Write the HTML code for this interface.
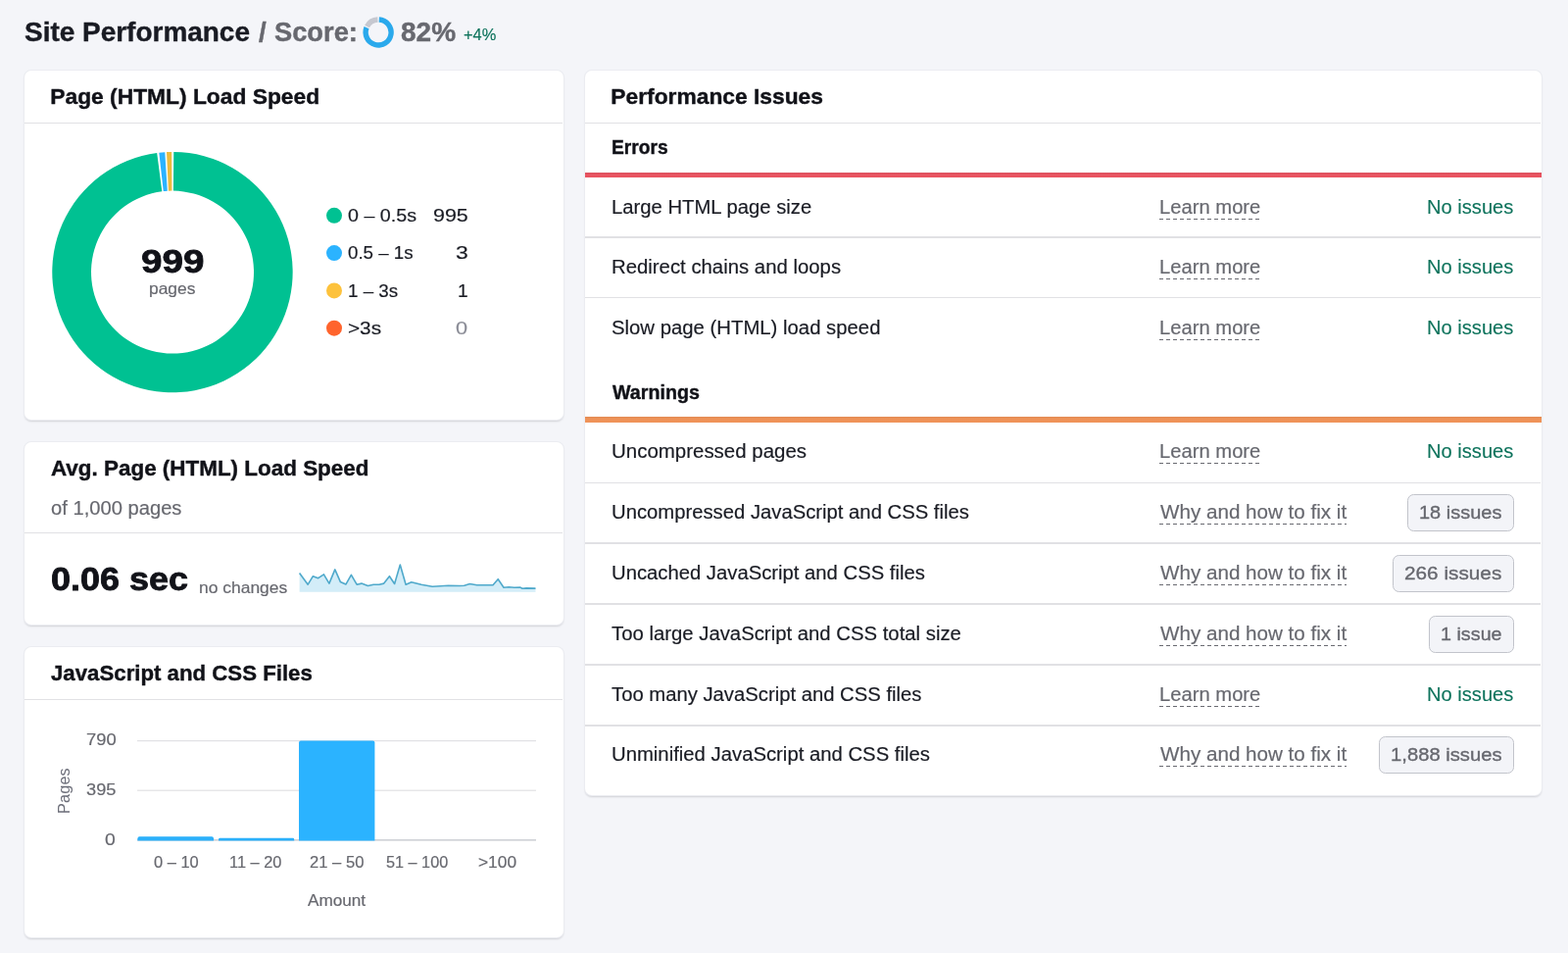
<!DOCTYPE html>
<html lang="en">
<head>
<meta charset="utf-8">
<title>Site Performance</title>
<style>
*{box-sizing:border-box;margin:0;padding:0}
html,body{width:1600px;height:972px;overflow:hidden}
body{background:#f4f5f9;font-family:"Liberation Sans",sans-serif;color:#191b23;position:relative}
.abs,.t{position:absolute;white-space:pre}
.t{line-height:1;transform-origin:0 0}
.card{position:absolute;background:#fff;border-radius:7px;box-shadow:0 0 0 1px #ebecf1,0 1.5px 2px rgba(25,27,35,.16)}
.hr{position:absolute;height:1.3px;background:#e1e1e4}
.ul{position:absolute;height:1.6px;background:repeating-linear-gradient(90deg,#696a71 0,#696a71 4px,transparent 4px,transparent 7px)}
.btn{position:absolute;border:1.6px solid #c2c4cb;border-radius:6.5px;background:#f3f4f8}
.rot{position:absolute;transform:rotate(-90deg);transform-origin:0 0;white-space:nowrap;line-height:1}
</style>
</head>
<body>
<!-- cards -->
<div class="card" style="left:24.8px;top:71.6px;width:550.1px;height:356.6px"></div>
<div class="hr" style="left:25px;top:124.6px;width:549px"></div>
<div class="card" style="left:24.8px;top:451.2px;width:550.1px;height:185.4px"></div>
<div class="hr" style="left:25px;top:542.6px;width:549px"></div>
<div class="card" style="left:24.8px;top:659.5px;width:550.1px;height:296px"></div>
<div class="hr" style="left:25px;top:712.6px;width:549px"></div>
<div class="card" style="left:596.8px;top:71.6px;width:976px;height:739.8px"></div>
<div class="hr" style="left:597px;top:124.6px;width:975px"></div>
<div class="abs" style="left:596.5px;top:175.7px;width:976.5px;height:5.6px;background:linear-gradient(#d9505e,#e8525f 40%,#ea5461)"></div>
<div class="abs" style="left:596.5px;top:425.3px;width:976.5px;height:5.6px;background:linear-gradient(#e38b54,#ee9257 40%,#f0945a)"></div>
<div class="hr" style="left:597px;top:241.3px;width:975px"></div>
<div class="hr" style="left:597px;top:302.8px;width:975px"></div>
<div class="hr" style="left:597px;top:491.6px;width:975px"></div>
<div class="hr" style="left:597px;top:553.3px;width:975px"></div>
<div class="hr" style="left:597px;top:615.3px;width:975px"></div>
<div class="hr" style="left:597px;top:677.3px;width:975px"></div>
<div class="hr" style="left:597px;top:739.3px;width:975px"></div>
<!-- graphics -->
<svg class="abs" style="left:366px;top:12px" width="40" height="42" viewBox="366 12 40 42"><path d="M386.92,17.32 A15.7,15.7 0 1 1 371.54,27.12 L376.55,29.14 A10.3,10.3 0 1 0 386.64,22.71 Z" fill="#2aa9ec"/><path d="M372.11,25.87 A15.7,15.7 0 0 1 385.28,17.32 L385.56,22.71 A10.3,10.3 0 0 0 376.92,28.32 Z" fill="#c6c8d0"/></svg>
<svg class="abs" style="left:0;top:0" width="600" height="440" viewBox="0 0 600 440"><path d="M177.28,154.91 A122.7,122.7 0 1 1 160.20,155.92 L165.31,195.29 A83.0,83.0 0 1 0 176.87,194.60 Z" fill="#00c192"/><path d="M162.32,155.66 A122.7,122.7 0 0 1 168.30,155.14 L170.79,194.76 A83.0,83.0 0 0 0 166.75,195.12 Z" fill="#2bb3ff"/><path d="M170.01,155.05 A122.7,122.7 0 0 1 175.14,154.90 L175.42,194.60 A83.0,83.0 0 0 0 171.95,194.70 Z" fill="#ecbb3f"/><circle cx="341" cy="219.8" r="8" fill="#00c192"/><circle cx="341" cy="258.1" r="8" fill="#2bb3ff"/><circle cx="341" cy="296.4" r="8" fill="#fdc23c"/><circle cx="341" cy="334.7" r="8" fill="#ff642d"/></svg>
<svg class="abs" style="left:0;top:0" width="1600" height="972" viewBox="0 0 1600 972"><polygon points="305.6,603.8 305.6,584.5 314.2,596.2 319.4,587.7 324.7,589.7 330.4,585.8 335.9,595.1 341.8,580.9 347.3,593.4 353.0,595.9 358.4,586.3 364.1,596.2 368.9,595.1 375.4,597.5 381.1,596.2 386.8,596.2 391.7,595.1 397.4,587.7 402.6,595.5 408.3,576.0 414.1,596.2 419.8,593.8 429.9,596.2 441.2,598.3 457.5,597.2 468.9,597.5 473.7,597.2 479.4,595.5 486.7,596.8 503.0,596.8 508.2,590.7 514.0,599.3 519.2,598.8 524.9,599.3 530.6,599.0 533.1,600.3 537.1,599.9 546.5,600.1 546.5,603.8" fill="#d3edf8"/><polyline points="305.6,584.5 314.2,596.2 319.4,587.7 324.7,589.7 330.4,585.8 335.9,595.1 341.8,580.9 347.3,593.4 353.0,595.9 358.4,586.3 364.1,596.2 368.9,595.1 375.4,597.5 381.1,596.2 386.8,596.2 391.7,595.1 397.4,587.7 402.6,595.5 408.3,576.0 414.1,596.2 419.8,593.8 429.9,596.2 441.2,598.3 457.5,597.2 468.9,597.5 473.7,597.2 479.4,595.5 486.7,596.8 503.0,596.8 508.2,590.7 514.0,599.3 519.2,598.8 524.9,599.3 530.6,599.0 533.1,600.3 537.1,599.9 546.5,600.1" fill="none" stroke="#4fa9cb" stroke-width="1.6" stroke-linejoin="round"/></svg>
<svg class="abs" style="left:0;top:0" width="600" height="972" viewBox="0 0 600 972"><rect x="140" y="755.0" width="407" height="1.2" fill="#e1e1e4"/><rect x="140" y="805.6" width="407" height="1.2" fill="#e1e1e4"/><rect x="140" y="856.2" width="407" height="1.3" fill="#c4c6cc"/><path d="M140.4,857.4 V855.3 a2,2 0 0 1 2,-2 H216 a2,2 0 0 1 2,2 V857.4 Z" fill="#2bb0fa"/><path d="M223,857.4 V856.2 a1.4,1.4 0 0 1 1.4,-1.4 H298.8 a1.4,1.4 0 0 1 1.4,1.4 V857.4 Z" fill="#2bb0fa"/><path d="M305,857.4 V757.6 a2,2 0 0 1 2,-2 H380.4 a2,2 0 0 1 2,2 V857.4 Z" fill="#2bb3ff"/></svg>
<div class="rot" style="left:57.4px;top:829.6px;font-size:16.2px;color:#6c6e79;letter-spacing:0.2px">Pages</div>
<!-- buttons / underlines -->
<div class="btn" style="left:1436.0px;top:504.0px;width:108.8px;height:38.2px"></div>
<div class="btn" style="left:1420.8px;top:565.8px;width:124.0px;height:38.2px"></div>
<div class="btn" style="left:1458.0px;top:627.8px;width:86.8px;height:38.2px"></div>
<div class="btn" style="left:1406.8px;top:751.2px;width:138.0px;height:38.2px"></div>
<div class="ul" style="left:1182.8px;top:222.9px;width:103.7px"></div>
<div class="ul" style="left:1182.8px;top:283.9px;width:103.7px"></div>
<div class="ul" style="left:1182.8px;top:345.9px;width:103.7px"></div>
<div class="ul" style="left:1182.8px;top:471.9px;width:103.7px"></div>
<div class="ul" style="left:1182.8px;top:533.9px;width:191.7px"></div>
<div class="ul" style="left:1182.8px;top:595.9px;width:191.7px"></div>
<div class="ul" style="left:1182.8px;top:657.9px;width:191.7px"></div>
<div class="ul" style="left:1182.8px;top:719.9px;width:103.7px"></div>
<div class="ul" style="left:1182.8px;top:780.9px;width:191.7px"></div>
<!-- text -->
<div class="t" style="left:25.2px;top:18.00px;font-size:28.3px;font-weight:700;color:#191b23;-webkit-text-stroke:0.4px #191b23;transform:scaleX(0.988);">Site Performance</div>
<div class="t" style="left:263.6px;top:18.00px;font-size:28.3px;font-weight:700;color:#67686f;-webkit-text-stroke:0.4px #67686f;transform:scaleX(0.981);">/</div>
<div class="t" style="left:280.4px;top:18.00px;font-size:28.3px;font-weight:700;color:#67686f;-webkit-text-stroke:0.4px #67686f;transform:scaleX(0.964);">Score:</div>
<div class="t" style="left:409.0px;top:18.00px;font-size:28.3px;font-weight:700;color:#67686f;-webkit-text-stroke:0.4px #67686f;transform:scaleX(0.990);">82%</div>
<div class="t" style="left:473.1px;top:27.00px;font-size:17px;color:#0e735c;-webkit-text-stroke:0.18px #0e735c;transform:scaleX(0.965);">+4%</div>
<div class="t" style="left:51.3px;top:87.00px;font-size:22.8px;font-weight:700;color:#111218;-webkit-text-stroke:0.4px #111218;">Page (HTML) Load Speed</div>
<div class="t" style="left:52.1px;top:466.00px;font-size:22.8px;font-weight:700;color:#111218;-webkit-text-stroke:0.4px #111218;transform:scaleX(0.984);">Avg. Page (HTML) Load Speed</div>
<div class="t" style="left:52.3px;top:675.00px;font-size:22.8px;font-weight:700;color:#111218;-webkit-text-stroke:0.4px #111218;transform:scaleX(0.975);">JavaScript and CSS Files</div>
<div class="t" style="left:623.3px;top:87.00px;font-size:22.8px;font-weight:700;color:#111218;-webkit-text-stroke:0.4px #111218;">Performance Issues</div>
<div class="t" style="left:143.9px;top:250.00px;font-size:33.6px;font-weight:700;color:#111218;-webkit-text-stroke:0.8px #111218;transform:scaleX(1.149);">999</div>
<div class="t" style="left:151.7px;top:286.00px;font-size:16.5px;color:#67686f;-webkit-text-stroke:0.18px #67686f;transform:scaleX(1.055);">pages</div>
<div class="t" style="left:355.4px;top:211.00px;font-size:18.6px;color:#191b23;-webkit-text-stroke:0.18px #191b23;transform:scaleX(1.058);">0 – 0.5s</div>
<div class="t" style="left:355.4px;top:249.00px;font-size:18.6px;color:#191b23;-webkit-text-stroke:0.18px #191b23;transform:scaleX(1.006);">0.5 – 1s</div>
<div class="t" style="left:355.2px;top:288.00px;font-size:18.6px;color:#191b23;-webkit-text-stroke:0.18px #191b23;transform:scaleX(1.009);">1 – 3s</div>
<div class="t" style="left:355.4px;top:326.00px;font-size:18.6px;color:#191b23;-webkit-text-stroke:0.18px #191b23;transform:scaleX(1.115);">&gt;3s</div>
<div class="t" style="left:442.1px;top:211.00px;font-size:18.6px;color:#191b23;-webkit-text-stroke:0.18px #191b23;transform:scaleX(1.153);">995</div>
<div class="t" style="left:465.1px;top:249.00px;font-size:18.6px;color:#191b23;-webkit-text-stroke:0.18px #191b23;transform:scaleX(1.234);">3</div>
<div class="t" style="left:466.7px;top:288.00px;font-size:18.6px;color:#191b23;-webkit-text-stroke:0.18px #191b23;transform:scaleX(1.030);">1</div>
<div class="t" style="left:465.4px;top:326.00px;font-size:18.6px;color:#8a8c96;-webkit-text-stroke:0.18px #8a8c96;transform:scaleX(1.168);">0</div>
<div class="t" style="left:52.4px;top:509.00px;font-size:19.3px;color:#67686f;-webkit-text-stroke:0.18px #67686f;transform:scaleX(1.046);">of 1,000 pages</div>
<div class="t" style="left:52.4px;top:574.00px;font-size:33.6px;font-weight:700;color:#111218;-webkit-text-stroke:0.8px #111218;transform:scaleX(1.071);">0.06 sec</div>
<div class="t" style="left:203.4px;top:591.00px;font-size:16.5px;color:#67686f;-webkit-text-stroke:0.18px #67686f;transform:scaleX(1.058);">no changes</div>
<div class="t" style="left:87.5px;top:747.00px;font-size:15.6px;color:#67686f;-webkit-text-stroke:0.18px #67686f;transform:scaleX(1.180);">790</div>
<div class="t" style="left:87.8px;top:798.00px;font-size:15.6px;color:#67686f;-webkit-text-stroke:0.18px #67686f;transform:scaleX(1.168);">395</div>
<div class="t" style="left:107.4px;top:849.00px;font-size:15.6px;color:#67686f;-webkit-text-stroke:0.18px #67686f;transform:scaleX(1.239);">0</div>
<div class="t" style="left:156.6px;top:872.00px;font-size:15.6px;color:#67686f;-webkit-text-stroke:0.18px #67686f;transform:scaleX(1.056);">0 – 10</div>
<div class="t" style="left:234.3px;top:872.00px;font-size:15.6px;color:#67686f;-webkit-text-stroke:0.18px #67686f;transform:scaleX(1.050);">11 – 20</div>
<div class="t" style="left:315.6px;top:872.00px;font-size:15.6px;color:#67686f;-webkit-text-stroke:0.18px #67686f;transform:scaleX(1.064);">21 – 50</div>
<div class="t" style="left:394.1px;top:872.00px;font-size:15.6px;color:#67686f;-webkit-text-stroke:0.18px #67686f;transform:scaleX(1.041);">51 – 100</div>
<div class="t" style="left:488.3px;top:872.00px;font-size:15.6px;color:#67686f;-webkit-text-stroke:0.18px #67686f;transform:scaleX(1.111);">&gt;100</div>
<div class="t" style="left:314.0px;top:911.00px;font-size:15.6px;color:#67686f;-webkit-text-stroke:0.18px #67686f;transform:scaleX(1.100);">Amount</div>
<div class="t" style="left:623.8px;top:140.00px;font-size:20.2px;font-weight:700;color:#111218;-webkit-text-stroke:0.4px #111218;transform:scaleX(0.951);">Errors</div>
<div class="t" style="left:625.2px;top:390.00px;font-size:20.2px;font-weight:700;color:#111218;-webkit-text-stroke:0.4px #111218;transform:scaleX(0.974);">Warnings</div>
<div class="t" style="left:623.8px;top:201.00px;font-size:20.0px;color:#191b23;-webkit-text-stroke:0.18px #191b23;transform:scaleX(1.013);">Large HTML page size</div>
<div class="t" style="left:1182.8px;top:202.00px;font-size:19.3px;color:#67686f;-webkit-text-stroke:0.18px #67686f;transform:scaleX(1.048);">Learn more</div>
<div class="t" style="left:1456.4px;top:202.00px;font-size:19.3px;color:#0e735c;-webkit-text-stroke:0.12px #0e735c;transform:scaleX(1.044);">No issues</div>
<div class="t" style="left:623.8px;top:262.00px;font-size:20.0px;color:#191b23;-webkit-text-stroke:0.18px #191b23;transform:scaleX(1.017);">Redirect chains and loops</div>
<div class="t" style="left:1182.8px;top:263.00px;font-size:19.3px;color:#67686f;-webkit-text-stroke:0.18px #67686f;transform:scaleX(1.048);">Learn more</div>
<div class="t" style="left:1456.4px;top:263.00px;font-size:19.3px;color:#0e735c;-webkit-text-stroke:0.12px #0e735c;transform:scaleX(1.044);">No issues</div>
<div class="t" style="left:623.8px;top:324.00px;font-size:20.0px;color:#191b23;-webkit-text-stroke:0.18px #191b23;transform:scaleX(1.016);">Slow page (HTML) load speed</div>
<div class="t" style="left:1182.8px;top:325.00px;font-size:19.3px;color:#67686f;-webkit-text-stroke:0.18px #67686f;transform:scaleX(1.048);">Learn more</div>
<div class="t" style="left:1456.4px;top:325.00px;font-size:19.3px;color:#0e735c;-webkit-text-stroke:0.12px #0e735c;transform:scaleX(1.044);">No issues</div>
<div class="t" style="left:623.8px;top:450.00px;font-size:20.0px;color:#191b23;-webkit-text-stroke:0.18px #191b23;transform:scaleX(1.023);">Uncompressed pages</div>
<div class="t" style="left:1182.8px;top:451.00px;font-size:19.3px;color:#67686f;-webkit-text-stroke:0.18px #67686f;transform:scaleX(1.048);">Learn more</div>
<div class="t" style="left:1456.4px;top:451.00px;font-size:19.3px;color:#0e735c;-webkit-text-stroke:0.12px #0e735c;transform:scaleX(1.044);">No issues</div>
<div class="t" style="left:623.8px;top:512.00px;font-size:20.0px;color:#191b23;-webkit-text-stroke:0.18px #191b23;transform:scaleX(1.013);">Uncompressed JavaScript and CSS files</div>
<div class="t" style="left:1183.5px;top:513.00px;font-size:19.3px;color:#67686f;-webkit-text-stroke:0.18px #67686f;transform:scaleX(1.069);">Why and how to fix it</div>
<div class="t" style="left:1448.0px;top:513.00px;font-size:19.0px;color:#67686f;-webkit-text-stroke:0.35px #67686f;transform:scaleX(1.052);">18 issues</div>
<div class="t" style="left:623.8px;top:574.00px;font-size:20.0px;color:#191b23;-webkit-text-stroke:0.18px #191b23;transform:scaleX(1.013);">Uncached JavaScript and CSS files</div>
<div class="t" style="left:1183.5px;top:575.00px;font-size:19.3px;color:#67686f;-webkit-text-stroke:0.18px #67686f;transform:scaleX(1.069);">Why and how to fix it</div>
<div class="t" style="left:1433.3px;top:575.00px;font-size:19.0px;color:#67686f;-webkit-text-stroke:0.35px #67686f;transform:scaleX(1.093);">266 issues</div>
<div class="t" style="left:623.8px;top:636.00px;font-size:20.0px;color:#191b23;-webkit-text-stroke:0.18px #191b23;transform:scaleX(1.016);">Too large JavaScript and CSS total size</div>
<div class="t" style="left:1183.5px;top:637.00px;font-size:19.3px;color:#67686f;-webkit-text-stroke:0.18px #67686f;transform:scaleX(1.069);">Why and how to fix it</div>
<div class="t" style="left:1470.0px;top:637.00px;font-size:19.0px;color:#67686f;-webkit-text-stroke:0.35px #67686f;transform:scaleX(1.040);">1 issue</div>
<div class="t" style="left:623.8px;top:698.00px;font-size:20.0px;color:#191b23;-webkit-text-stroke:0.18px #191b23;transform:scaleX(1.013);">Too many JavaScript and CSS files</div>
<div class="t" style="left:1182.8px;top:699.00px;font-size:19.3px;color:#67686f;-webkit-text-stroke:0.18px #67686f;transform:scaleX(1.048);">Learn more</div>
<div class="t" style="left:1456.4px;top:699.00px;font-size:19.3px;color:#0e735c;-webkit-text-stroke:0.12px #0e735c;transform:scaleX(1.044);">No issues</div>
<div class="t" style="left:623.8px;top:759.00px;font-size:20.0px;color:#191b23;-webkit-text-stroke:0.18px #191b23;transform:scaleX(1.015);">Unminified JavaScript and CSS files</div>
<div class="t" style="left:1183.5px;top:760.00px;font-size:19.3px;color:#67686f;-webkit-text-stroke:0.18px #67686f;transform:scaleX(1.069);">Why and how to fix it</div>
<div class="t" style="left:1418.8px;top:760.00px;font-size:19.0px;color:#67686f;-webkit-text-stroke:0.35px #67686f;transform:scaleX(1.065);">1,888 issues</div>
</body>
</html>
